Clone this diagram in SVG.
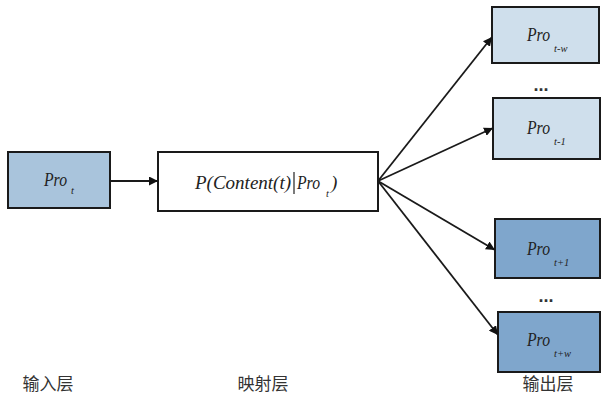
<svg xmlns="http://www.w3.org/2000/svg" width="601" height="398" viewBox="0 0 601 398">
<style>
.box{stroke:#1a1a1a;stroke-width:2}
.t{font-family:"Liberation Serif","Times New Roman",serif;font-style:italic;font-size:19px;fill:#222}
.s{font-family:"Liberation Serif","Times New Roman",serif;font-style:italic;font-size:10.5px;fill:#222}
.lbl{font-family:"Noto Sans CJK SC",sans-serif;font-size:17px;fill:#333}
.dots{font-family:"Liberation Sans",sans-serif;font-size:18px;font-weight:bold;fill:#333}
.c{stroke:#1a1a1a;stroke-width:1.8;fill:none;marker-end:url(#ah)}
</style>
<defs>
<marker id="ah" viewBox="0 0 10 10" refX="10" refY="5" markerWidth="9" markerHeight="9" markerUnits="userSpaceOnUse" orient="auto"><path d="M0,0 L10,5 L0,10 z" fill="#111"/></marker>
</defs>
<rect width="601" height="398" fill="#ffffff"/>
<g id="input">
<rect class="box" x="8" y="152" width="102" height="56" fill="#a9c4dc"/>
<text class="t" x="44" y="186" textLength="23" lengthAdjust="spacingAndGlyphs">Pro</text><text class="s" x="71" y="194">t</text>
</g>
<g id="mapping">
<rect class="box" x="158" y="152" width="220" height="59" fill="#ffffff"/>
<text class="t" x="195" y="189">P(Content(t)</text>
<line x1="294" y1="172" x2="294" y2="194" stroke="#222" stroke-width="1.2"/>
<text class="t" x="297" y="189" textLength="23" lengthAdjust="spacingAndGlyphs">Pro</text><text class="s" x="326" y="197">t</text><text class="t" x="331" y="189">)</text>
</g>
<g id="out1">
<rect class="box" x="492" y="7" width="107" height="56" fill="#cfdfec"/>
<text class="t" x="527" y="41" textLength="23" lengthAdjust="spacingAndGlyphs">Pro</text><text class="s" x="554" y="52">t-w</text>
</g>
<g id="out2">
<rect class="box" x="493" y="98" width="107" height="61" fill="#cfdfec"/>
<text class="t" x="527" y="134" textLength="23" lengthAdjust="spacingAndGlyphs">Pro</text><text class="s" x="554" y="145">t-1</text>
</g>
<g id="out3">
<rect class="box" x="495" y="219" width="105" height="59" fill="#7fa6cc"/>
<text class="t" x="527" y="255" textLength="23" lengthAdjust="spacingAndGlyphs">Pro</text><text class="s" x="554" y="266">t+1</text>
</g>
<g id="out4">
<rect class="box" x="498" y="312" width="102" height="60" fill="#7fa6cc"/>
<text class="t" x="527" y="346" textLength="23" lengthAdjust="spacingAndGlyphs">Pro</text><text class="s" x="554" y="357">t+w</text>
</g>
<text class="dots" x="541" y="91" text-anchor="middle">...</text>
<text class="dots" x="546" y="302" text-anchor="middle">...</text>
<g id="connectors">
<line class="c" x1="110" y1="181" x2="158" y2="181"/>
<line class="c" x1="378" y1="181" x2="492" y2="37"/>
<line class="c" x1="378" y1="181" x2="493" y2="128"/>
<line class="c" x1="378" y1="181" x2="495" y2="250"/>
<line class="c" x1="378" y1="181" x2="498" y2="335"/>
</g>
<text class="lbl" x="48" y="390" text-anchor="middle">输入层</text>
<text class="lbl" x="263" y="390" text-anchor="middle">映射层</text>
<text class="lbl" x="548" y="390" text-anchor="middle">输出层</text>
</svg>
